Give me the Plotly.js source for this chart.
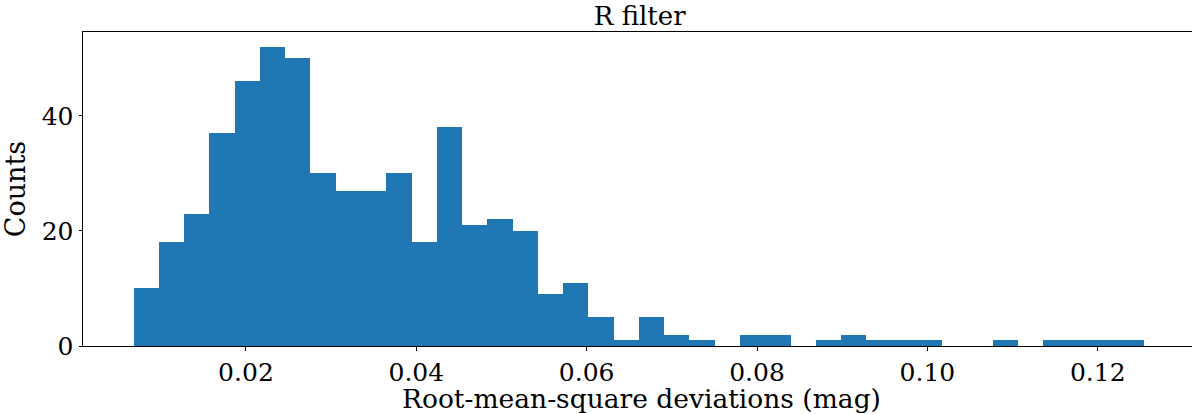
<!DOCTYPE html>
<html>
<head>
<meta charset="utf-8">
<script src="https://cdn.plot.ly/plotly-3.0.1.min.js"></script>
<style>
  html, body { margin: 0; padding: 0; background: #fff; overflow: hidden; }
  #chart { width: 1192px; height: 414px; }
</style>
</head>
<body>
<div id="chart"></div>
<script>
// Histogram of RMS deviations, R filter (40 equal-width bins)
const binStart = 0.00681;
const binWidth = 0.0029665;
const counts = [10, 18, 23, 37, 46, 52, 50, 30, 27, 27,
                30, 18, 38, 21, 22, 20, 9, 11, 5, 1,
                5, 2, 1, 0, 2, 2, 0, 1, 2, 1,
                1, 1, 0, 0, 1, 0, 1, 1, 1, 1];
const xTickVals = [0.02, 0.04, 0.06, 0.08, 0.10, 0.12];
const xTickText = ["0.02", "0.04", "0.06", "0.08", "0.10", "0.12"];
const yTickVals = [0, 20, 40];
const yTickText = ["0", "20", "40"];
const xLabel = "Root-mean-square deviations (mag)";

const centers = counts.map((_, i) => binStart + binWidth * (i + 0.5));

const font = "DejaVu Serif";
const trace = {
  type: "bar",
  x: centers,
  y: counts,
  width: counts.map(() => binWidth),
  marker: { color: "#1f77b4", line: { width: 0 } },
  hoverinfo: "x+y"
};

const layout = {
  width: 1192,
  height: 414,
  margin: { l: 83, r: 0, t: 32, b: 68 },
  paper_bgcolor: "#ffffff",
  plot_bgcolor: "#ffffff",
  font: { family: font, size: 25, color: "#000" },
  showlegend: false,
  bargap: 0,
  title: {
    text: "R filter",
    font: { family: font, size: 26, color: "#000" },
    x: 0.5367, xanchor: "center",
    yref: "container", y: 0.961, yanchor: "middle"
  },
  xaxis: {
    range: [0.000869, 0.13107],
    tickvals: xTickVals,
    ticktext: xTickText,
    ticks: "outside",
    ticklen: 3.5,
    tickwidth: 1,
    tickcolor: "#000",
    showline: true,
    mirror: true,
    linecolor: "#000",
    linewidth: 1,
    showgrid: false,
    zeroline: false,
    tickfont: { family: font, size: 25, color: "#000" }
  },
  yaxis: {
    range: [0, 54.6],
    tickvals: yTickVals,
    ticktext: yTickText,
    ticks: "outside",
    ticklen: 3.5,
    tickwidth: 1,
    tickcolor: "#000",
    showline: true,
    mirror: false,
    linecolor: "#000",
    linewidth: 1,
    showgrid: false,
    zeroline: false,
    tickfont: { family: font, size: 25, color: "#000" },
    title: {
      text: "Counts",
      font: { family: font, size: 27, color: "#000" },
      standoff: 8
    }
  },
  annotations: [{
    text: xLabel,
    xref: "paper", yref: "paper",
    x: 0.5038, y: -0.168,
    xanchor: "center", yanchor: "middle",
    showarrow: false,
    font: { family: font, size: 26.5, color: "#000" },
    borderpad: 0
  }]
};

Plotly.newPlot("chart", [trace], layout, { displayModeBar: false, staticPlot: true });
</script>
</body>
</html>
